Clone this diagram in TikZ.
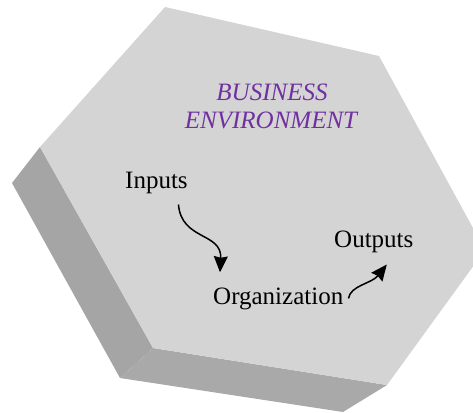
\documentclass[tikz,border=0pt]{standalone}
\usepackage{fontspec}
\setmainfont{Liberation Serif}
\usetikzlibrary{arrows.meta}
\begin{document}
\begin{tikzpicture}[x=1pt,y=-1pt]
    \definecolor{facegray}{RGB}{212,212,212};
    \definecolor{sidegray}{RGB}{165,165,165};
    \definecolor{bottomgray}{RGB}{169,169,169};
    \definecolor{envpurple}{RGB}{112,48,160};
\useasboundingbox (0,0) rectangle (473,412);
\begin{scope}
\clip (0,0) rectangle (473,412);
% sides of the block
\fill [sidegray] (40,147) -- (12,183) -- (120,378) -- (153,348) -- cycle;
\fill [bottomgray] (153,348) -- (120,378) -- (343,412) -- (387,385) -- cycle;
% top face
\fill [facegray] (165,7) -- (379,56) -- (485,250) -- (387,385) -- (153,348) -- (40,147) -- cycle;
\end{scope}
 \tikzstyle{every node}=[inner sep=0pt,font=\fontsize{25}{29}\selectfont];
 \tikzstyle{flow}=[-{Stealth[length=16pt,width=14pt,inset=1.5pt]},line width=1.5pt];
\node [anchor=base,text=envpurple,font=\fontsize{25}{29}\selectfont\itshape] (biz) at (272,100) {BUSINESS};
\node [anchor=base,text=envpurple,font=\fontsize{25}{29}\selectfont\itshape] (env) at (271,128) {ENVIRONMENT};
\node [anchor=base west] (inputs) at (125,188) {Inputs};
\node [anchor=base west] (outputs) at (334,247) {Outputs};
\node [anchor=base west] (org) at (213,304) {Organization};
\draw [flow] ([xshift=22pt,yshift=-11pt]inputs.south) .. controls +(3,36) and +(2,-40) .. ([xshift=7pt,yshift=15pt]org.north west);
\draw [flow] ([xshift=5pt]org.east) .. controls +(2,-13) and +(-15,19) .. ([xshift=13pt,yshift=-12pt]outputs.south);
\end{tikzpicture}
\end{document}
